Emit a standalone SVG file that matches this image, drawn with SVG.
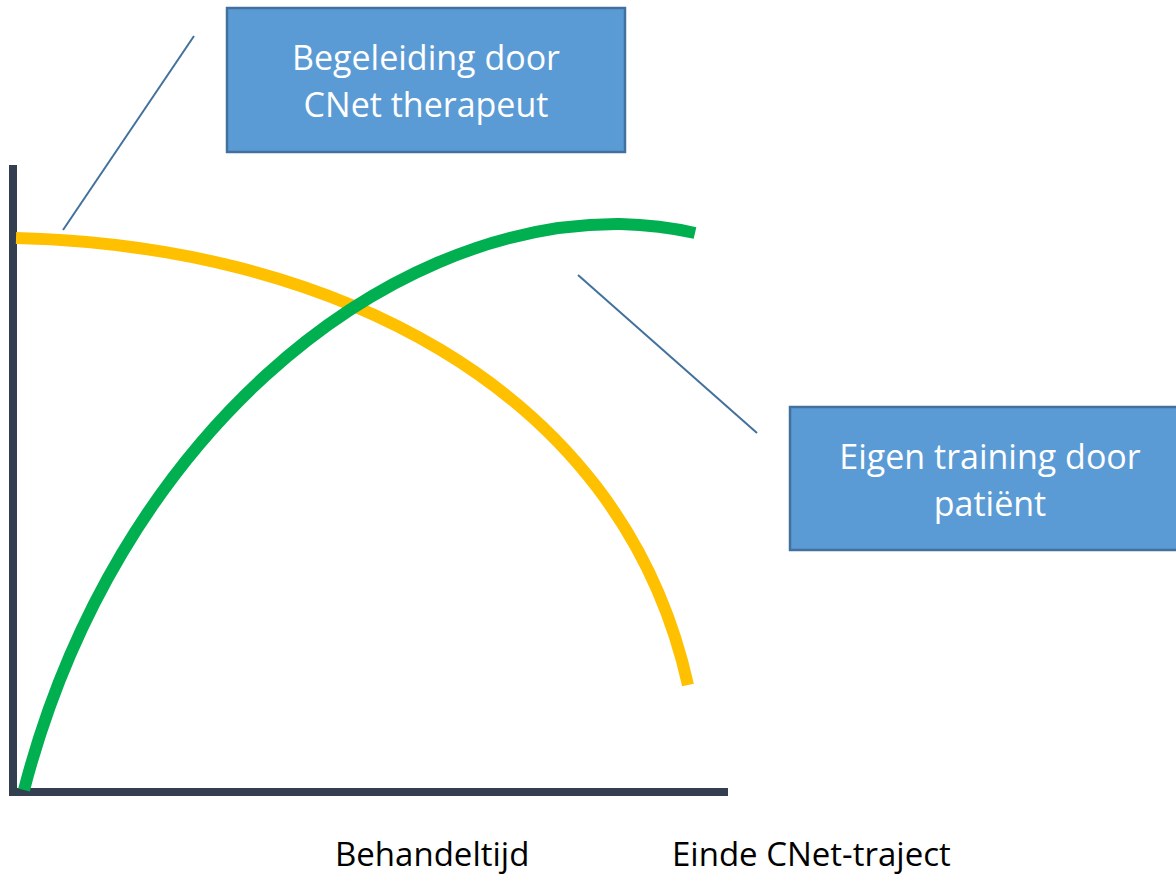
<svg xmlns="http://www.w3.org/2000/svg" width="1176" height="877" viewBox="0 0 1176 877">
<style>
.box{fill:#5b9bd5;stroke:#41719c;stroke-width:2.5}
.bt{font-family:"Open Sans","Liberation Sans",sans-serif;font-size:34px;fill:#ffffff;text-anchor:middle}
.lbl{font-family:"Open Sans","Liberation Sans",sans-serif;font-size:33px;fill:#000000}
.conn{stroke:#41719c;stroke-width:2;fill:none}
.axis{stroke:#333f50;stroke-width:8;fill:none}
</style>
<rect width="1176" height="877" fill="#ffffff"/>
<g id="axes">
<line class="axis" x1="13" y1="165" x2="13" y2="796"/>
<line class="axis" x1="13" y1="792" x2="728" y2="792"/>
</g>
<g id="curves">
<path d="M16,238 C320,245 620,380 688,685" fill="none" stroke="#ffc000" stroke-width="12"/>
<path d="M24,790 C115,440 380,222 620,224 Q660,225 695,233" fill="none" stroke="#00b050" stroke-width="12"/>
</g>
<g id="connectors">
<line class="conn" x1="194" y1="36" x2="63" y2="230"/>
<line class="conn" x1="578" y1="275" x2="757" y2="433"/>
</g>
<g id="node-begeleiding">
<rect class="box" x="227" y="8" width="398" height="144"/>
<text class="bt" x="426" y="70">Begeleiding door</text>
<text class="bt" x="426" y="117">CNet therapeut</text>
</g>
<g id="node-eigen">
<rect class="box" x="790" y="407" width="388" height="143"/>
<text class="bt" x="990" y="469">Eigen training door</text>
<text class="bt" x="990" y="516">patiënt</text>
</g>
<g id="labels">
<text class="lbl" x="335" y="866">Behandeltijd</text>
<text class="lbl" x="672" y="866">Einde CNet-traject</text>
</g>
</svg>
